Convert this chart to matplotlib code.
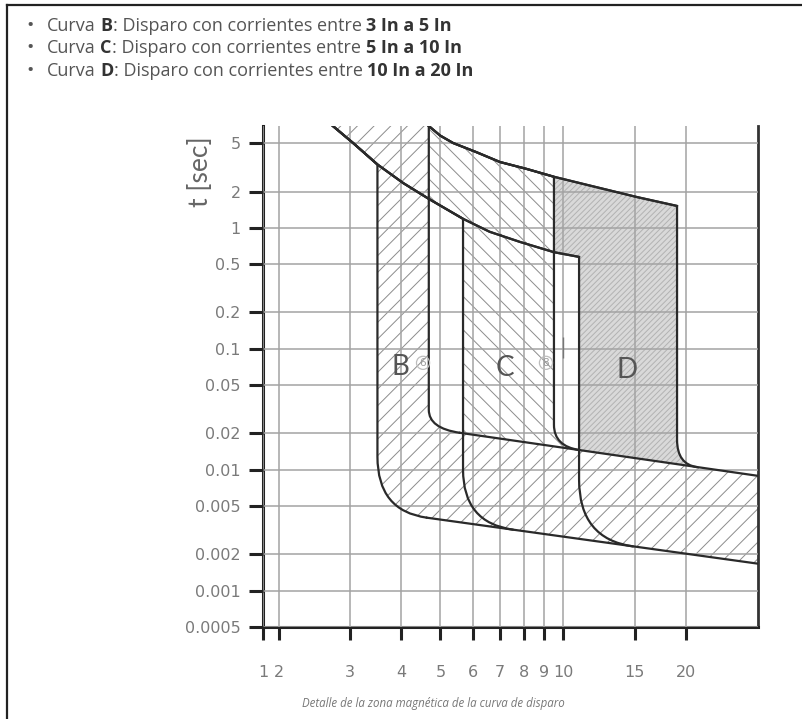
import matplotlib
matplotlib.use("Agg")
import matplotlib.pyplot as plt
from matplotlib.path import Path
from matplotlib.patches import PathPatch
from matplotlib.lines import Line2D
from matplotlib.ticker import FixedLocator, FixedFormatter, NullLocator

# ---------------- data ----------------
bullet_curves = ["B", "C", "D"]
bullet_ranges = ["3 In a 5 In", "5 In a 10 In", "10 In a 20 In"]
bullet_prefix = "Curva"
bullet_middle = ": Disparo con corrientes entre"
caption = "Detalle de la zona magnética de la curva de disparo"
y_label = "t [sec]"

x_ticks = [1.832, 2, 3, 4, 5, 6, 7, 8, 9, 10, 15, 20]
x_tick_labels = ["1", "2", "3", "4", "5", "6", "7", "8", "9", "10", "15", "20"]
y_ticks = [5, 2, 1, 0.5, 0.2, 0.1, 0.05, 0.02, 0.01, 0.005, 0.002, 0.001, 0.0005]
y_tick_labels = ["5", "2", "1", "0.5", "0.2", "0.1", "0.05", "0.02", "0.01",
                 "0.005", "0.002", "0.001", "0.0005"]
x_limits = [1.832, 30.13]
y_limits = [0.0005, 6.97]

# thermal zone limits (multiple of In, seconds)
lower_arc_x = [2.59, 2.72, 3.05, 3.5, 4.05, 4.68, 5.68, 6.6, 7.84, 9.5, 10.95]
lower_arc_y = [8.1, 6.97, 5.04, 3.35, 2.35, 1.74, 1.19, 0.93, 0.766, 0.63, 0.576]
upper_arc_x = [4.66, 4.99, 5.37, 6.11, 7.0, 8.16, 9.5, 11.46, 15.2, 19.06]
upper_arc_y = [7.05, 5.81, 5.04, 4.25, 3.51, 3.07, 2.65, 2.27, 1.80, 1.52]
top_y = 8.4

# magnetic zone limits (straight in log-log)
upper_line_x = [5.58, 30.13]
upper_line_y = [0.0202, 0.0089]
lower_line_x = [4.63, 30.13]
lower_line_y = [0.00401, 0.00167]

# minimum (left) limit of each curve
min_curve_x = {"B": 3.5, "C": 5.68, "D": 10.95}
min_knee_y = {"B": 0.0128, "C": 0.0100, "D": 0.00826}
min_corner_y = {"B": 0.00456, "C": 0.00364, "D": 0.00268}
min_join_x = {"B": 4.63, "C": 7.54, "D": 14.86}
min_join_y = {"B": 0.00401, "C": 0.00319, "D": 0.00232}

# maximum (right) limit of each curve
max_curve_x = {"B": 4.68, "C": 9.5, "D": 19.06}
max_knee_y = {"B": 0.0313, "C": 0.0235, "D": 0.0177}
max_corner_y = {"B": 0.0220, "C": 0.0156, "D": 0.0111}
max_join_x = {"B": 5.58, "C": 11.0, "D": 21.34}
max_join_y = {"B": 0.0202, "C": 0.01452, "D": 0.0105}

label_x = {"B": 3.98, "C": 7.2, "D": 14.36}
label_y = {"B": 0.071, "C": 0.0697, "D": 0.0669}
note_x = [4.53, 9.08]
note_y = [0.0766, 0.0766]
note_text = ["6", "8"]
mark_x = 10
mark_y = [0.084, 0.126]

# ---------------- figure ----------------
W, H = 803, 719
plt.rcParams["font.family"] = ["DejaVu Sans"]
plt.rcParams["hatch.linewidth"] = 0.7
fig = plt.figure(figsize=(W / 100, H / 100), dpi=100)
fig.patch.set_facecolor("white")

ax = fig.add_axes([263 / W, (H - 627) / H, (758 - 263) / W, (627 - 126) / H])
ax.set_xscale("log")
ax.set_yscale("log")
ax.set_xlim(*x_limits)
ax.set_ylim(*y_limits)


def min_curve(k):
    vx = min_curve_x[k]
    verts = [(x, y) for x, y in zip(lower_arc_x, lower_arc_y) if x <= vx]
    codes = [Path.MOVETO] + [Path.LINETO] * (len(verts) - 1)
    verts += [(vx, min_knee_y[k]), (vx, min_corner_y[k]), (min_join_x[k], min_join_y[k])]
    codes += [Path.LINETO, Path.CURVE3, Path.CURVE3]
    return verts, codes


def max_curve(k):
    vx = max_curve_x[k]
    if k == "B":
        verts = [(vx, top_y)]
    else:
        verts = [(x, y) for x, y in zip(upper_arc_x, upper_arc_y) if x <= vx]
    codes = [Path.MOVETO] + [Path.LINETO] * (len(verts) - 1)
    verts += [(vx, max_knee_y[k]), (vx, max_corner_y[k]), (max_join_x[k], max_join_y[k])]
    codes += [Path.LINETO, Path.CURVE3, Path.CURVE3]
    return verts, codes


def region(k):
    v1, c1 = min_curve(k)
    verts = list(v1)
    codes = list(c1)
    verts += [(lower_line_x[-1], lower_line_y[-1]), (upper_line_x[-1], upper_line_y[-1])]
    codes += [Path.LINETO, Path.LINETO]
    v2, c2 = max_curve(k)
    rv = v2[::-1]
    rcodes = [Path.LINETO, Path.CURVE3, Path.CURVE3] + [Path.LINETO] * (len(rv) - 3)
    verts += rv
    codes += rcodes
    if k != "B":
        verts.append((upper_arc_x[0], top_y))
        codes.append(Path.LINETO)
    verts.append(v1[0])
    codes.append(Path.CLOSEPOLY)
    return Path(verts, codes)


region_style = {
    "D": dict(facecolor="#d9d9d9", edgecolor="#b2b2b2", hatch="//////", zorder=1.0),
    "C": dict(facecolor="white", edgecolor="#8c8c8c", hatch="\\\\", zorder=1.1),
    "B": dict(facecolor="white", edgecolor="#8c8c8c", hatch="//", zorder=1.2),
}
for k in ["D", "C", "B"]:
    ax.add_patch(PathPatch(region(k), linewidth=0, **region_style[k]))

line_color = "#2a2a2a"
outline = dict(fill=False, edgecolor=line_color, linewidth=1.6, zorder=4, capstyle="round",
               joinstyle="round")
ax.plot(lower_arc_x, lower_arc_y, color=line_color, lw=1.6, zorder=4, solid_joinstyle="round")
ax.plot(upper_arc_x, upper_arc_y, color=line_color, lw=1.6, zorder=4, solid_joinstyle="round")
ax.plot(upper_line_x, upper_line_y, color=line_color, lw=1.6, zorder=4)
ax.plot(lower_line_x, lower_line_y, color=line_color, lw=1.6, zorder=4)
for k in bullet_curves:
    v, c = min_curve(k)
    ax.add_patch(PathPatch(Path(v, c), **outline))
    v, c = max_curve(k)
    ax.add_patch(PathPatch(Path(v, c), **outline))

ax.vlines(mark_x, mark_y[0], mark_y[1], color="#777777", lw=1.0, zorder=4)

for k in bullet_curves:
    ax.text(label_x[k], label_y[k], k, ha="center", va="center", fontsize=20,
            color="#555555", family=["Lato", "DejaVu Sans"], zorder=5)
for x, y, t in zip(note_x, note_y, note_text):
    ax.text(x, y, t, ha="center", va="center", fontsize=7.5, color="#9a9a9a", zorder=5,
            bbox=dict(boxstyle="circle,pad=0.15", fc="none", ec="#bdbdbd", lw=0.9))

# axes styling
ax.xaxis.set_major_locator(FixedLocator(x_ticks))
ax.xaxis.set_major_formatter(FixedFormatter(x_tick_labels))
ax.xaxis.set_minor_locator(NullLocator())
ax.yaxis.set_major_locator(FixedLocator(y_ticks))
ax.yaxis.set_major_formatter(FixedFormatter(y_tick_labels))
ax.yaxis.set_minor_locator(NullLocator())
ax.set_axisbelow(False)
ax.grid(True, which="major", color="#a3a3a3", linewidth=1.1)
ax.tick_params(axis="y", direction="out", length=10, width=2.2, color="#222222",
               labelsize=11.5, labelcolor="#7a7a7a", pad=6)
ax.tick_params(axis="x", direction="out", length=9.5, width=2.2, color="#222222",
               labelsize=11.5, labelcolor="#7a7a7a", pad=18)
for s in ["left", "bottom"]:
    ax.spines[s].set_linewidth(2.2)
    ax.spines[s].set_color("#222222")
ax.spines["right"].set_linewidth(2.0)
ax.spines["right"].set_color("#333333")
ax.spines["top"].set_visible(False)

fig.text(201 / W, 1 - 172 / H, y_label, rotation=90, ha="center", va="center",
         fontsize=19, color="#666666", family=["Lato", "DejaVu Sans"])

fig.text(433 / W, 1 - 704 / H, caption, ha="center", va="center", fontsize=8.3,
         style="italic", color="#777777", family=["Open Sans", "DejaVu Sans"])

# frame of the screenshot
fig.add_artist(Line2D([7 / W, 1], [1 - 5 / H, 1 - 5 / H], transform=fig.transFigure,
                      color="#222222", lw=1.6))
fig.add_artist(Line2D([7 / W, 7 / W], [0, 1 - 5 / H], transform=fig.transFigure,
                      color="#222222", lw=1.6))

# bullet list
rend = fig.canvas.get_renderer()
line_y = [26, 48, 71]
fs = 13
space_px = 0.26 * fs * 100 / 72
for i, (c, r) in enumerate(zip(bullet_curves, bullet_ranges)):
    yf = 1 - line_y[i] / H
    fig.text(30 / W, yf, "\u2022", ha="center", va="center", fontsize=14, color="#555555",
             family=["Open Sans", "DejaVu Sans"])
    runs = [(bullet_prefix, False, False), (c, True, True), (bullet_middle, False, False),
            (r, True, True)]
    x = 47
    for text, bold, sp in runs:
        if sp:
            x += space_px
        t = fig.text(x / W, yf, text, ha="left", va="center", fontsize=fs,
                     color="#333333" if bold else "#555555",
                     weight="bold" if bold else "normal",
                     family=["Open Sans", "DejaVu Sans"])
        bb = t.get_window_extent(renderer=rend)
        x = bb.x1

fig.savefig("out.png", dpi=100)
